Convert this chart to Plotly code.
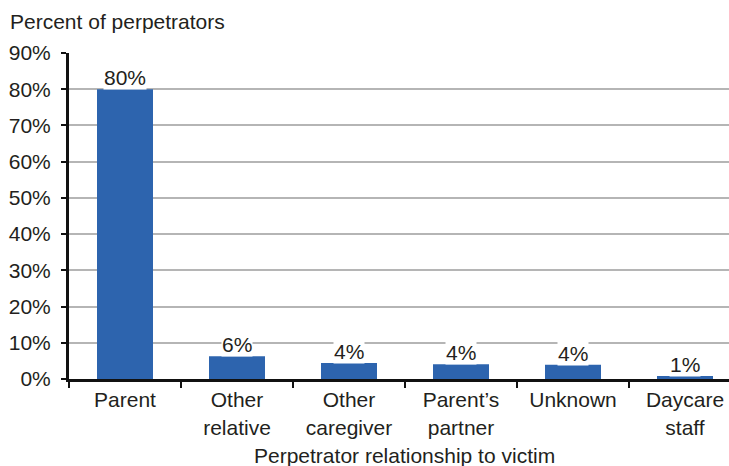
import plotly.graph_objects as go

categories = ["Parent", "Other<br>relative", "Other<br>caregiver", "Parent’s<br>partner", "Unknown", "Daycare<br>staff"]
values = [80.0, 6.3, 4.4, 4.1, 3.9, 0.8]
value_labels = ["80%", "6%", "4%", "4%", "4%", "1%"]
y_ticks = [0, 10, 20, 30, 40, 50, 60, 70, 80, 90]
y_tick_labels = [f"{v}%" for v in y_ticks]

FONT = "Liberation Sans, Arial, sans-serif"
TXT = "#231f20"
FS = 21

W, H = 729, 466
L, R, T = 69, 0, 53
B = H - 379

fig = go.Figure()
fig.add_trace(go.Bar(
    x=categories, y=values, width=0.5,
    marker=dict(color="#2d64ae", line=dict(width=0)),
    hoverinfo="skip",
))

for c, v, lab in zip(categories, values, value_labels):
    fig.add_annotation(
        x=c, y=v, xref="x", yref="y", text=lab, showarrow=False,
        yanchor="bottom", yshift=-1, bgcolor="white", borderpad=0,
        font=dict(family=FONT, size=FS, color=TXT),
    )

plot_w = W - L - R
plot_h = H - T - B
fig.add_annotation(
    x=(405 - L) / plot_w, y=(379 - 455) / plot_h, xref="paper", yref="paper",
    text="Perpetrator relationship to victim", showarrow=False,
    xanchor="center", yanchor="middle",
    font=dict(family=FONT, size=FS, color=TXT),
)

fig.update_layout(
    width=W, height=H,
    margin=dict(l=L, r=R, t=T, b=B, pad=0, autoexpand=False),
    paper_bgcolor="white", plot_bgcolor="white",
    showlegend=False,
    title=dict(text="Percent of perpetrators", x=10 / W, xref="container", xanchor="left",
               y=1 - 22 / H, yref="container", yanchor="middle",
               font=dict(family=FONT, size=FS, color=TXT)),
    font=dict(family=FONT, size=FS, color=TXT),
)

fig.update_xaxes(
    type="category", range=[-0.5, -0.5 + plot_w / 112.0], automargin=False,
    tickson="boundaries", ticks="outside", ticklen=6, tickwidth=2, tickcolor="#111",
    showline=True, linecolor="#111", linewidth=3,
    showgrid=False, tickfont=dict(family=FONT, size=FS, color=TXT),
)
fig.update_yaxes(
    range=[0, 90], tickvals=y_ticks, ticktext=y_tick_labels, automargin=False,
    ticks="outside", ticklen=5, tickwidth=2, tickcolor="#111", ticklabelstandoff=6,
    showline=True, linecolor="#111", linewidth=3,
    showgrid=True, gridcolor="#b5b5b5", gridwidth=2,
    zeroline=False, tickfont=dict(family=FONT, size=FS, color=TXT),
)

fig.write_html(
    "out.html",
    config={"displayModeBar": False},
    post_script="document.body.style.margin='0';document.body.style.padding='0';"
                "document.body.style.overflow='hidden';",
)
